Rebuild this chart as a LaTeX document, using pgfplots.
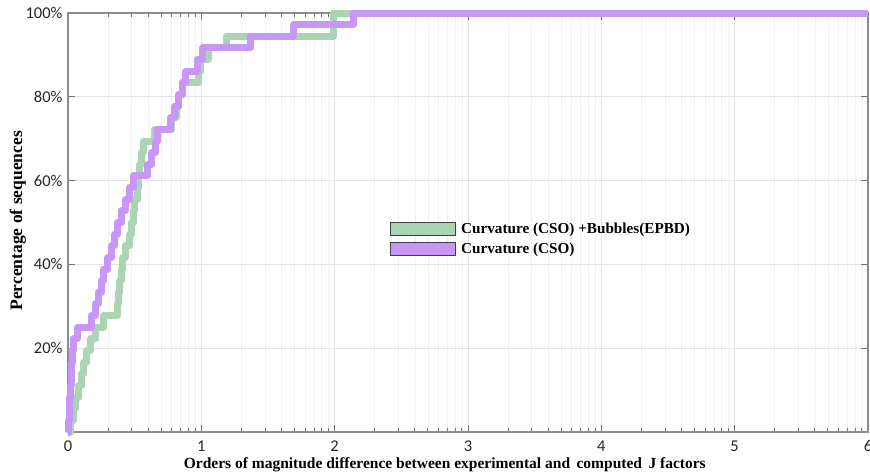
\documentclass[border=0pt]{standalone}
\usepackage{pgfplots}
\pgfplotsset{compat=1.18}
\usepackage{fontspec}
\setmainfont{Liberation Serif}
\newfontfamily\tickfont{Carlito}
\definecolor{cgreen}{RGB}{170,212,180}
\definecolor{cpurple}{RGB}{200,150,245}
\begin{document}
\begin{tikzpicture}
\useasboundingbox (-68pt,-43pt) rectangle (802pt,432pt);
\begin{axis}[
  scale only axis, width=800pt, height=419pt,
  xmin=0, xmax=6, ymin=0, ymax=100,
  xtick={0,1,2,3,4,5,6}, ytick={0,20,40,60,80,100},
  yticklabels={,20\%,40\%,60\%,80\%,100\%},
  minor xtick={0.30103,0.47712,0.60206,0.69897,0.77815,0.84510,0.90309,0.95424,
    1.30103,1.47712,1.60206,1.69897,1.77815,1.84510,1.90309,1.95424,
    2.30103,2.47712,2.60206,2.69897,2.77815,2.84510,2.90309,2.95424,
    3.30103,3.47712,3.60206,3.69897,3.77815,3.84510,3.90309,3.95424,
    4.30103,4.47712,4.60206,4.69897,4.77815,4.84510,4.90309,4.95424,
    5.30103,5.47712,5.60206,5.69897,5.77815,5.84510,5.90309,5.95424},
  grid=both,
  major grid style={draw=black!11, line width=0.7pt},
  minor grid style={draw=black!6, line width=0.7pt},
  axis line style={draw=black!45, line width=1.2pt},
  tick style={draw=black!55, line width=0.9pt},
  major tick length=7pt, minor tick length=4pt,
  tick align=inside,
  /pgf/number format/assume math mode=true,
  ticklabel style={font=\tickfont\fontsize{16.5}{16.5}\selectfont, text=black!85},
  xticklabel style={yshift=-5pt},
  yticklabel style={xshift=-2pt},
  xlabel={Orders of magnitude difference between experimental and\, computed\, J factors},
  ylabel={Percentage of sequences},
  xlabel style={font=\bfseries\fontsize{15.5}{18}\selectfont, at={(axis description cs:0.471,-0.079)}, anchor=center},
  ylabel style={font=\bfseries\fontsize{17.5}{20}\selectfont, at={(axis description cs:-0.0625,0.504)}, anchor=center},
  clip=false,
  legend style={at={(0.4025,0.505)}, anchor=north west, draw=none, fill=none,
    font=\bfseries\fontsize{15.2}{17}\selectfont, row sep=4.5pt, inner sep=0pt},
  legend cell align=left,
]
\addplot[const plot, draw=cgreen, line width=7pt, line join=round, forget plot] coordinates {
(0,0) (0.02,2.778) (0.04,5.556) (0.06,8.333) (0.08,11.111) (0.10,13.889) (0.12,16.667)
(0.14,19.444) (0.17,22.222) (0.21,25) (0.27,27.778) (0.37,30.556) (0.38,33.333)
(0.39,36.111) (0.40,38.889) (0.41,41.667) (0.43,44.444) (0.46,47.222) (0.48,50)
(0.49,52.778) (0.50,55.556) (0.52,58.333) (0.53,61.111) (0.54,63.889) (0.55,66.667)
(0.57,69.444) (0.65,72.222) (0.78,75) (0.81,77.778) (0.83,80.556) (0.86,83.333)
(0.98,86.111) (0.99,88.889) (1.05,91.667) (1.19,94.444) (1.99,97.222) (1.99,100) (6,100)
};
\addplot[const plot, draw=cpurple, line width=7pt, line join=round, forget plot] coordinates {
(0,0) (0.005,2.778) (0.01,5.556) (0.015,8.333) (0.02,11.111) (0.025,13.889) (0.03,16.667)
(0.035,19.444) (0.04,22.222) (0.07,25) (0.18,27.778) (0.21,30.556) (0.23,33.333)
(0.25,36.111) (0.27,38.889) (0.30,41.667) (0.33,44.444) (0.35,47.222) (0.37,50)
(0.40,52.778) (0.43,55.556) (0.46,58.333) (0.49,61.111) (0.60,63.889) (0.63,66.667)
(0.66,69.444) (0.67,72.222) (0.77,75) (0.80,77.778) (0.83,80.556) (0.86,83.333)
(0.88,86.111) (0.97,88.889) (1.01,91.667) (1.37,94.444) (1.69,97.222) (2.14,100) (6,100)
};
\addlegendimage{legend image code/.code={\draw[fill=cgreen, draw=black!75, line width=1pt] (0pt,-6.5pt) rectangle (65pt,6.5pt);}}
\addlegendentry{\hspace{3pt}Curvature (CSO) +Bubbles(EPBD)}
\addlegendimage{legend image code/.code={\draw[fill=cpurple, draw=black!75, line width=1pt] (0pt,-6.5pt) rectangle (65pt,6.5pt);}}
\addlegendentry{\hspace{3pt}Curvature (CSO)}
\end{axis}
\end{tikzpicture}
\end{document}
